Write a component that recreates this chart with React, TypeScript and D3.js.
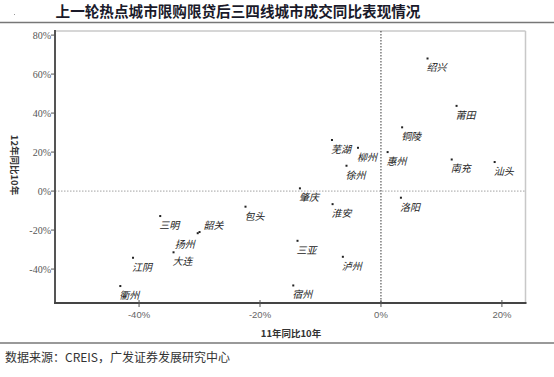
import React from "react";
import * as d3 from "d3";

const cities = ["绍兴","莆田","铜陵","惠州","南充","汕头","洛阳","芜湖","柳州","徐州","肇庆","淮安","包头","三亚","泸州","宿州","韶关","扬州","三明","大连","江阴","衢州"];
const growth11 = [7.7,12.5,3.5,1.1,11.7,18.8,3.3,-8.1,-3.8,-5.7,-13.4,-8.0,-22.4,-13.8,-6.3,-14.5,-30.0,-30.3,-36.5,-34.3,-41.0,-43.1];
const growth12 = [68,43.7,32.7,20,16.2,14.9,-3.4,26.2,22.2,13,1.4,-6.7,-8,-25.5,-33.7,-48.4,-21.0,-21.6,-12.8,-31.4,-34.2,-48.7];
const xTicks = [-40,-20,0,20];
const yTicks = [-40,-20,0,20,40,60,80];

// label offsets (style only)
const labelDx: Record<string, number> = { 韶关: 4, 扬州: -23 };
const labelDy: Record<string, number> = { 韶关: -3, 扬州: 15 };

const W = 554, H = 377;
const L = 55, R = 525.5, T = 31, B = 303;

export default function App() {
  const x = d3.scaleLinear().domain([-53.9, 23.9]).range([L, R]);
  const y = d3.scaleLinear().domain([-57.4, 82.1]).range([B, T]);
  const serifCJK = "'Noto Sans CJK SC', 'Noto Sans', sans-serif";
  return (
    <div style={{ position: "absolute", left: 0, top: 0 }}>
      <svg width={W} height={H} style={{ display: "block", background: "#fff" }}>
        <rect x={0} y={0} width={W} height={H} fill="#fff" />
        <text x={238} y={17} textAnchor="middle" fontFamily={serifCJK} fontWeight="bold" fontSize={14.6} fill="#1a1a2a">
          上一轮热点城市限购限贷后三四线城市成交同比表现情况
        </text>
        <line x1={0} x2={W} y1={22.5} y2={22.5} stroke="#777" strokeWidth={1.6} />
        <rect x={14} y={14} width={1} height={1} fill="#999" />

        {/* plot frame */}
        <line x1={L} x2={R} y1={T} y2={T} stroke="#c8c8c8" strokeWidth={1.5} />
        <line x1={R} x2={R} y1={T} y2={B} stroke="#c8c8c8" strokeWidth={1.5} />

        {/* reference lines */}
        <line x1={L} x2={R} y1={y(0)} y2={y(0)} stroke="#999" strokeWidth={0.9} strokeDasharray="1.5,1.5" />
        <line x1={x(0)} x2={x(0)} y1={T} y2={B} stroke="#222" strokeWidth={0.9} strokeDasharray="1.5,1.5" />

        {/* axes */}
        <line x1={L} x2={L} y1={T - 1} y2={B + 1} stroke="#555" strokeWidth={2} />
        <line x1={L - 1} x2={R + 1} y1={B} y2={B} stroke="#444" strokeWidth={2} />

        {yTicks.map((t) => (
          <g key={"y" + t}>
            <line x1={L - 4} x2={L} y1={y(t)} y2={y(t)} stroke="#555" strokeWidth={1} />
            <text x={L - 4} y={y(t) + 3.5} textAnchor="end" fontFamily="'Liberation Serif', serif" fontSize={10} fill="#555">
              {t}%
            </text>
          </g>
        ))}
        {xTicks.map((t) => (
          <g key={"x" + t}>
            <line x1={x(t)} x2={x(t)} y1={B - 3} y2={B + 4} stroke="#555" strokeWidth={1} />
            <text x={x(t)} y={318} textAnchor="middle" fontFamily="'Liberation Sans', Arial, sans-serif" fontSize={9.5} fill="#666">
              {t}%
            </text>
          </g>
        ))}

        <text x={291} y={337} textAnchor="middle" fontFamily={serifCJK} fontWeight="bold" fontSize={9.5} fill="#333">
          11年同比10年
        </text>
        <text transform={`translate(11,165) rotate(90)`} textAnchor="middle" fontFamily={serifCJK} fontWeight="bold" fontSize={9.5} fill="#333">
          12年同比10年
        </text>

        {/* points */}
        {cities.map((c, i) => {
          const px = x(growth11[i]);
          const py = y(growth12[i]);
          const dx = labelDx[c] ?? -1;
          const dy = labelDy[c] ?? 13;
          return (
            <g key={c}>
              <rect x={px - 1} y={py - 1} width={2} height={2} fill="#222" />
              <text x={px + dx} y={py + dy} fontFamily={serifCJK} fontStyle="italic" fontSize={10} fill="#222">
                {c}
              </text>
            </g>
          );
        })}

        <line x1={0} x2={W} y1={343} y2={343} stroke="#777" strokeWidth={1.4} />
        <text x={5} y={362} fontFamily={serifCJK} fontSize={12} fill="#333">
          数据来源：CREIS，广发证券发展研究中心
        </text>
      </svg>
    </div>
  );
}
